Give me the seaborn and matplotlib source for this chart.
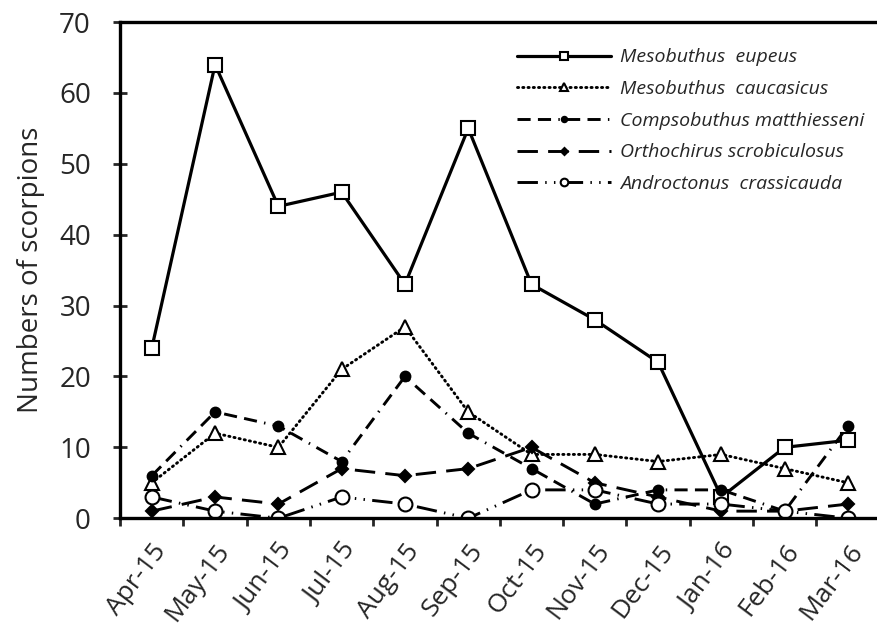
import numpy as np
import pandas as pd
import matplotlib
matplotlib.use("Agg")
import matplotlib.pyplot as plt
import seaborn as sns

# data
months = ["Apr-15", "May-15", "Jun-15", "Jul-15", "Aug-15", "Sep-15",
          "Oct-15", "Nov-15", "Dec-15", "Jan-16", "Feb-16", "Mar-16"]
eupeus = [24, 64, 44, 46, 33, 55, 33, 28, 22, 3, 10, 11]
caucasicus = [5, 12, 10, 21, 27, 15, 9, 9, 8, 9, 7, 5]
compsobuthus = [6, 15, 13, 8, 20, 12, 7, 2, 4, 4, 1, 13]
orthochirus = [1, 3, 2, 7, 6, 7, 10, 5, 3, 1, 1, 2]
androctonus = [3, 1, 0, 3, 2, 0, 4, 4, 2, 2, 1, 0]

series = [
    ("Mesobuthus  eupeus", eupeus, "s", "white", "-"),
    ("Mesobuthus  caucasicus", caucasicus, "^", "white", (0, (0.4, 1.4))),
    ("Compsobuthus matthiesseni", compsobuthus, "o", "black", (0, (4.5, 2.5, 4.5, 2.5, 0.5, 2.5))),
    ("Orthochirus scrobiculosus", orthochirus, "D", "black", (0, (7, 3.5))),
    ("Androctonus  crassicauda", androctonus, "o", "white", (0, (7, 2.5, 0.5, 2.5, 0.5, 2.5))),
]

sns.set_style("white")
plt.rcParams["font.family"] = ["Open Sans", "DejaVu Sans"]

fig = plt.figure(figsize=(8.77, 6.39), dpi=100)
ax = fig.add_axes([0.137, 0.189, 0.866, 0.7765])

for name, vals, mk, fc, ls in series:
    df = pd.DataFrame({"month": months, "count": vals})
    msize = 6.5 if mk == "D" else 10
    if name.startswith("Compsobuthus"):
        msize = 7
    sns.lineplot(data=df, x="month", y="count", ax=ax, sort=False,
                 color="black", linewidth=2.3 if ls == "-" else 2.1,
                 linestyle=ls, marker=mk, markersize=msize,
                 markerfacecolor=fc, markeredgecolor="black",
                 markeredgewidth=1.5, label=name,
                 dash_capstyle="round" if name == "Mesobuthus  caucasicus" else "butt")

ax.set_xlim(-0.5, len(months) - 0.5)
ax.set_ylim(0, 70)
ax.set_yticks(np.arange(0, 71, 10))
ax.set_xticks(range(len(months)))
ax.set_xticklabels(months, rotation=53, ha="right", rotation_mode="anchor")
ax.set_xticks(np.arange(-0.5, len(months), 1), minor=True)
ax.tick_params(axis="x", which="major", length=0, pad=15, labelsize=19)
ax.tick_params(axis="x", which="minor", direction="out", length=6, width=2,
               bottom=True)
ax.tick_params(axis="y", direction="inout", length=10, width=2, labelsize=20,
               left=True, pad=16)
ax.set_xlabel("")
ax.set_ylabel("Numbers of scorpions", fontsize=20, labelpad=10)

for side in ["left", "bottom", "top"]:
    ax.spines[side].set_linewidth(2.4)
    ax.spines[side].set_color("black")
ax.spines["right"].set_visible(False)

leg = ax.legend(loc="upper left", bbox_to_anchor=(0.50, 0.982), frameon=False,
                prop={"style": "italic", "size": 14}, handlelength=4.8,
                handletextpad=0.5, labelspacing=0.7, markerscale=0.55)

fig.savefig("out.png", dpi=100)
